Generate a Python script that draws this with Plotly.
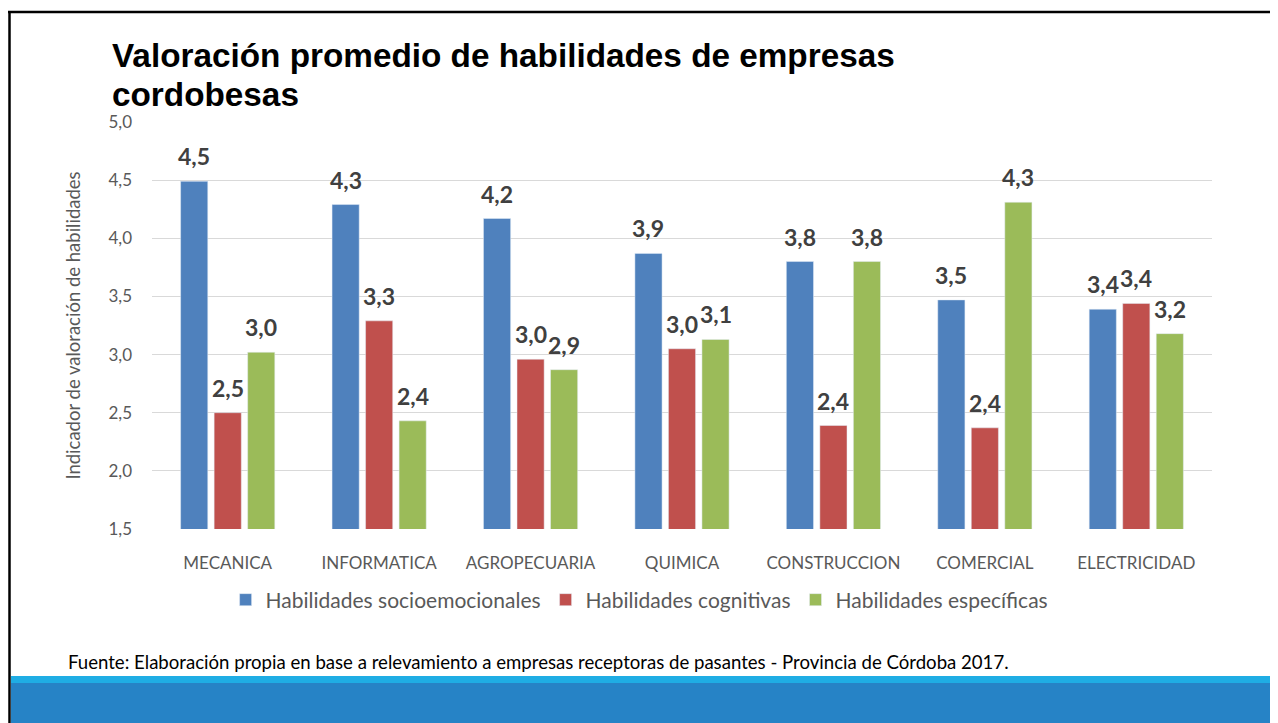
"""Valoración promedio de habilidades - barras agrupadas con Plotly."""
import plotly.graph_objects as go

OFF = 8  # marge du body de la page html
W, H = 1278 - OFF, 723 - OFF
# zone de tracé (pixels écran)
X0, X1, Y0, Y1 = 152, 1212, 122, 529
BARGAP, BARGROUPGAP = 0.336, 0.19

categorias = ["MECANICA", "INFORMATICA", "AGROPECUARIA", "QUIMICA",
              "CONSTRUCCION", "COMERCIAL", "ELECTRICIDAD"]
socioemocionales = [4.49, 4.29, 4.17, 3.87, 3.80, 3.47, 3.39]
cognitivas = [2.50, 3.29, 2.96, 3.05, 2.39, 2.37, 3.44]
especificas = [3.02, 2.43, 2.87, 3.13, 3.80, 4.31, 3.18]

series = [
    ("Habilidades socioemocionales", socioemocionales, "#4F81BD"),
    ("Habilidades cognitivas", cognitivas, "#C0504D"),
    ("Habilidades específicas", especificas, "#9BBB59"),
]

FONT = "Lato, 'Open Sans', sans-serif"
GRIS_TXT = "#595959"


def px(x):
    return (x - X0) / (X1 - X0)


def py(y):
    return (Y1 - y) / (Y1 - Y0)


fig = go.Figure()
for nom, vals, couleur in series:
    fig.add_trace(go.Bar(x=categorias, y=vals, name=nom, marker_color=couleur))

# étiquettes de valeur au-dessus des barres (décalage horizontal = largeur d'un créneau de barre)
creneau = (X1 - X0) / len(categorias) * (1 - BARGAP) / len(series)
annotations = []
for s, (nom, vals, couleur) in enumerate(series):
    for cat, v in zip(categorias, vals):
        annotations.append(dict(
            x=cat, y=v, xref="x", yref="y", text=f"{v:.1f}".replace(".", ","),
            showarrow=False, yanchor="bottom", xshift=(s - 1) * creneau, yshift=9,
            font=dict(family=FONT, size=23, color="#404040", weight="bold"),
        ))

# cadre de la diapositive + bandeau bleu
shapes = [
    dict(type="line", xref="paper", yref="paper", x0=px(8), x1=px(1278), y0=py(12), y1=py(12),
         line=dict(color="black", width=2.5)),
    dict(type="line", xref="paper", yref="paper", x0=px(9.5), x1=px(9.5), y0=py(12), y1=py(723),
         line=dict(color="black", width=2.5)),
    dict(type="rect", xref="paper", yref="paper", x0=px(11), x1=px(1278), y0=py(676), y1=py(683),
         fillcolor="#1FADE4", line=dict(width=0), layer="above"),
    dict(type="rect", xref="paper", yref="paper", x0=px(11), x1=px(1278), y0=py(683), y1=py(723),
         fillcolor="#2683C6", line=dict(width=0), layer="above"),
]

TITRE_FONT = dict(family="Liberation Sans, Arial, sans-serif", size=33.3, color="black", weight="bold")
annotations += [
    dict(text="Valoración promedio de habilidades de empresas",
         xref="paper", yref="paper", x=px(110), y=py(55), xanchor="left", yanchor="middle",
         showarrow=False, font=TITRE_FONT),
    dict(text="cordobesas",
         xref="paper", yref="paper", x=px(110), y=py(95), xanchor="left", yanchor="middle",
         showarrow=False, font=TITRE_FONT),
    dict(text="Fuente: Elaboración propia en base a relevamiento a empresas receptoras de pasantes - Provincia de Córdoba 2017.",
         xref="paper", yref="paper", x=px(66), y=py(662), xanchor="left", yanchor="middle",
         showarrow=False, font=dict(family=FONT, size=18.6, color="black")),
]

fig.update_layout(
    width=W, height=H,
    margin=dict(l=X0 - OFF, r=W - (X1 - OFF), t=Y0 - OFF, b=H - (Y1 - OFF)),
    paper_bgcolor="white", plot_bgcolor="white",
    separators=",.",
    barmode="group", bargap=BARGAP, bargroupgap=BARGROUPGAP,
    font=dict(family=FONT, color=GRIS_TXT),
    xaxis=dict(tickfont=dict(size=17, color=GRIS_TXT), showline=False, ticks="",
               ticklabelstandoff=22),
    yaxis=dict(range=[1.5, 5.0], dtick=0.5, tickformat=".1f",
               tickfont=dict(size=17, color=GRIS_TXT),
               gridcolor="#D9D9D9", gridwidth=1, zeroline=False, showline=False,
               ticklabelstandoff=19,
               title=dict(text="Indicador de valoración de habilidades",
                          font=dict(size=18.5, color=GRIS_TXT), standoff=22)),
    showlegend=True,
    legend=dict(orientation="h", x=0.46, xanchor="center", y=py(600), yanchor="middle",
                font=dict(size=21, color=GRIS_TXT), itemwidth=30,
                traceorder="normal"),
    shapes=shapes, annotations=annotations,
)

fig.write_html("out.html")
